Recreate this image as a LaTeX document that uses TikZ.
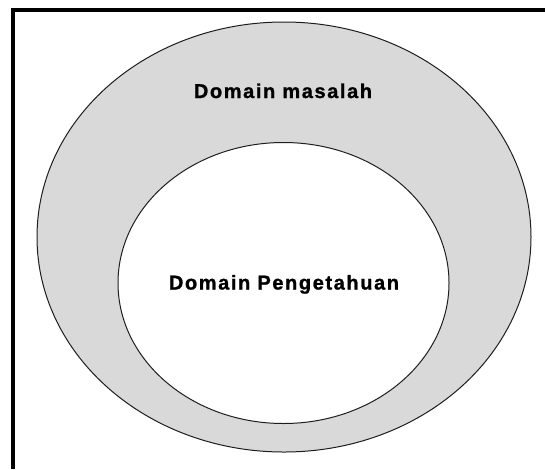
\documentclass[tikz,border=0pt]{standalone}
\usepackage{fontspec}
\usetikzlibrary{shapes.geometric}
\setmainfont{Liberation Sans}
\newfontfamily\domainfont[LetterSpace=8, BoldFeatures={LetterSpace=8, FakeBold=1.2}]{Liberation Sans}
\definecolor{regiongray}{HTML}{D9D9D9}
\definecolor{outline}{HTML}{1E1E1E}
\begin{document}
\begin{tikzpicture}[x=1pt,y=-1pt,
  region/.style={ellipse, draw=outline, line width=1pt, inner sep=0pt, outer sep=0pt},
  caption/.style={font=\domainfont\bfseries\fontsize{20}{24}\selectfont, anchor=base, inner sep=0pt}]
  \useasboundingbox (0,0) rectangle (545,469);
  \fill[white] (0,0) rectangle (545,469);
  % frame (top and left edges)
  \draw[line width=4pt, line join=miter] (13,469) -- (13,10) -- (545,10);
  % problem domain and knowledge domain
  \node[region, fill=regiongray, minimum width=494pt, minimum height=430pt] (problem) at (284,237) {};
  \node[region, fill=white, minimum width=331pt, minimum height=281pt] (knowledge) at (283.5,283) {};
  \node[caption] (problemlabel) at (283,98) {Domain masalah};
  \node[caption] (knowledgelabel) at (284,289.5) {Domain Pengetahuan};
\end{tikzpicture}
\end{document}
